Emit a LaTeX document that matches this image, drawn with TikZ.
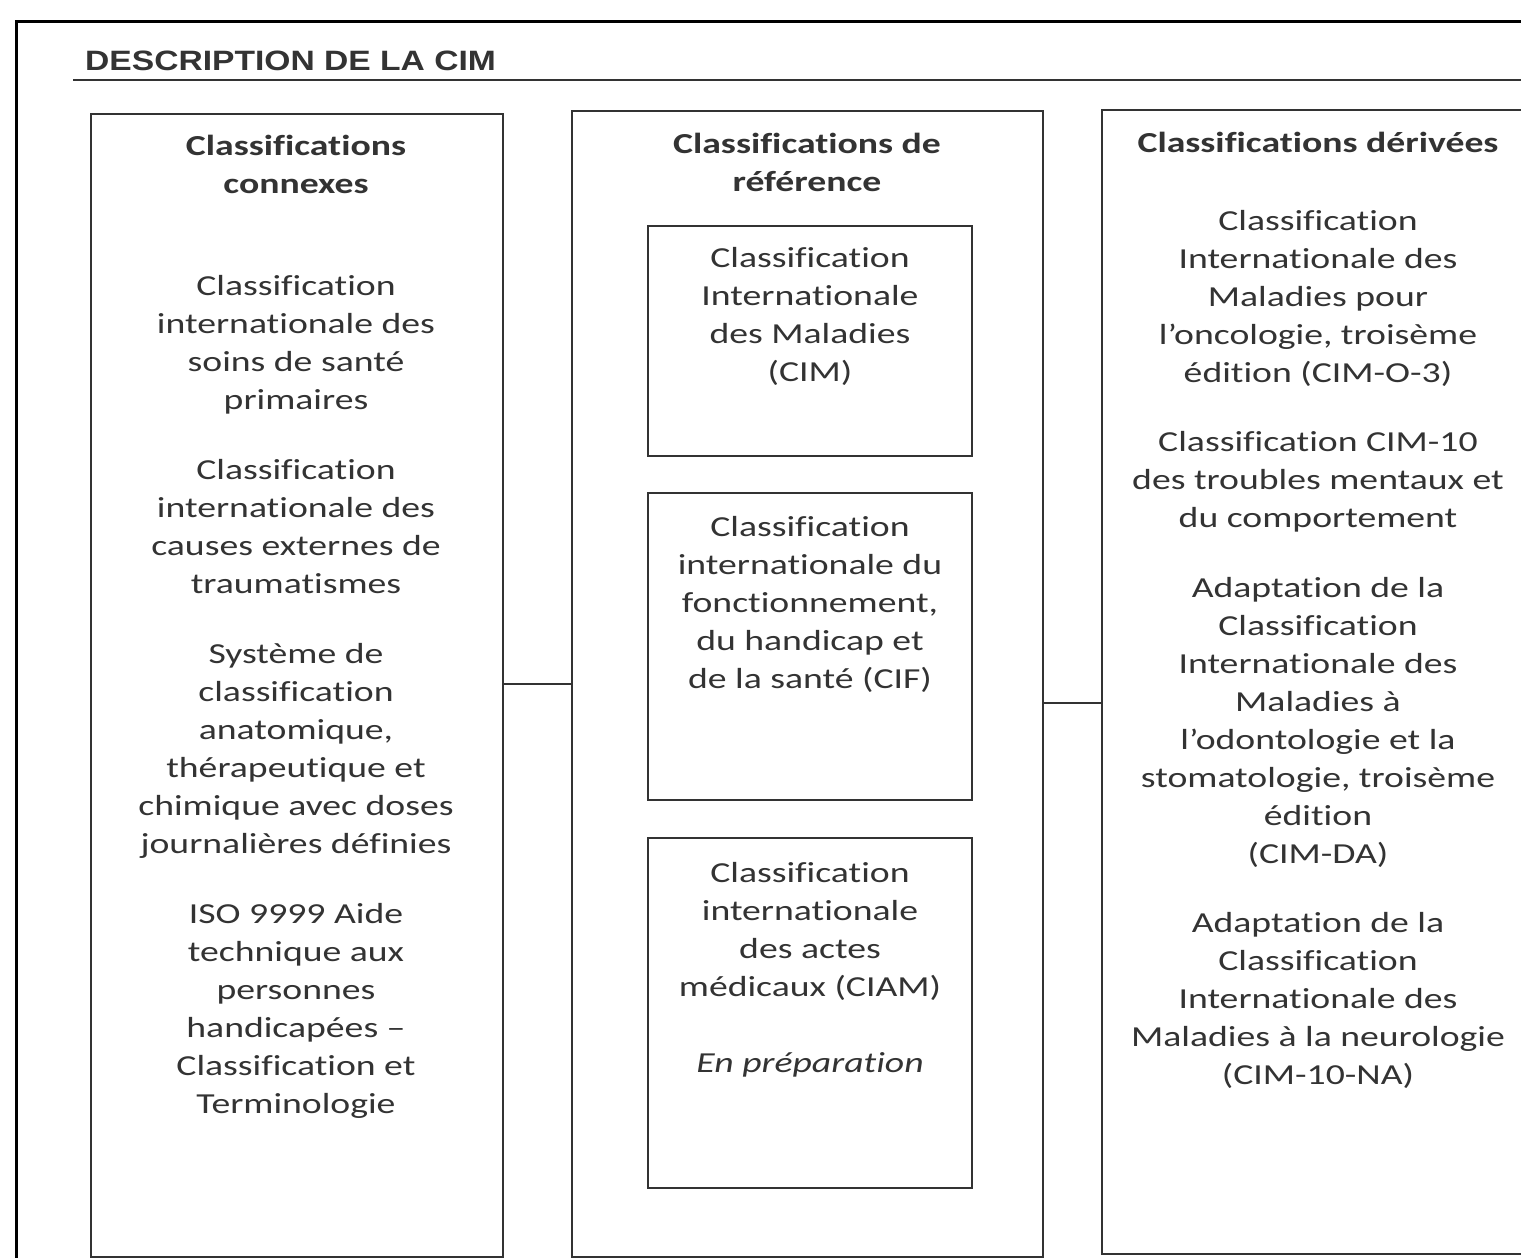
\documentclass[tikz,border=0pt]{standalone}
\usepackage{fontspec}
\setmainfont{Carlito}[FakeStretch=1.3, Ligatures={TeX,CommonOff}]
\newfontfamily\titlefont{Liberation Sans}[FakeStretch=1.2]
\definecolor{encre}{HTML}{333333}
\begin{document}
\begin{tikzpicture} [x=1pt, y=-1pt,
    box/.style={draw=encre, line width=2pt, inner sep=0pt},
    txt/.style={text=encre, align=center, inner sep=0pt, anchor=north,
                font=\fontsize{29}{38}\selectfont},
    head/.style={txt, font=\fontsize{29}{38}\selectfont\bfseries},
    link/.style={draw=encre, line width=2pt},
]
    \useasboundingbox (0,0) rectangle (1521,1258);
    \fill [white] (0,0) rectangle (1521,1258);
    % page frame and title
    \draw [line width=3pt] (16,1262) -- (16,21) -- (1530,21);
    \node [anchor=base west, inner sep=0pt, text=encre,
           font=\titlefont\fontsize{28}{30}\selectfont\bfseries] (titre) at (85,70) {DESCRIPTION DE LA CIM};
    \draw [encre, line width=2pt] (73,80) -- (1530,80);

    % the three columns
    \node [box, minimum width=412pt, minimum height=1143pt] (connexes) at (297,685.5) {};
    \node [box, minimum width=471pt, minimum height=1146pt] (reference) at (807.5,684) {};
    \node [box, minimum width=433pt, minimum height=1144pt] (derivees) at (1318.5,682) {};

    % boxes inside the middle column
    \node [box, minimum width=324pt, minimum height=230pt] (cim) at (810,341) {};
    \node [box, minimum width=324pt, minimum height=307pt] (cif) at (810,646.5) {};
    \node [box, minimum width=324pt, minimum height=350pt] (ciam) at (810,1013) {};

    % connectors
    \coordinate (gauche) at (0,684);
    \coordinate (droite) at (0,703);
    \draw [link] (connexes.east |- gauche) -- (reference.west |- gauche);
    \draw [link] (reference.east |- droite) -- (derivees.west |- droite);

    % left column
    \node [head] (tconnexes) at (296,135) {Classifications\\connexes};
    \node [txt] (soins) at (296,275) {Classification\\internationale des\\soins de santé\\primaires};
    \node [txt] (causes) at (296,459) {Classification\\internationale des\\causes externes de\\traumatismes};
    \node [txt] (atc) at (296,643) {Système de\\classification\\anatomique,\\thérapeutique et\\chimique avec doses\\journalières définies};
    \node [txt] (iso) at (296,903) {ISO 9999 Aide\\technique aux\\personnes\\handicapées –\\Classification et\\Terminologie};

    % middle column
    \node [head] (treference) at (807,133) {Classifications de\\référence};
    \node [txt] (tcim) at (810,247) {Classification\\Internationale\\des Maladies\\(CIM)};
    \node [txt] (tcif) at (810,516) {Classification\\internationale du\\fonctionnement,\\du handicap et\\de la santé (CIF)};
    \node [txt] (tciam) at (810,862) {Classification\\internationale\\des actes\\médicaux (CIAM)\\[38pt]\textit{En préparation}};

    % right column
    \node [head] (tderivees) at (1318,132) {Classifications dérivées};
    \node [txt] (oncologie) at (1318,210) {Classification\\Internationale des\\Maladies pour\\l’oncologie, troisème\\édition (CIM-O-3)};
    \node [txt] (mentaux) at (1318,431) {Classification CIM-10\\des troubles mentaux et\\du comportement};
    \node [txt] (odonto) at (1318,577) {Adaptation de la\\Classification\\Internationale des\\Maladies à\\l’odontologie et la\\stomatologie, troisème\\édition\\(CIM-DA)};
    \node [txt] (neuro) at (1318,912) {Adaptation de la\\Classification\\Internationale des\\Maladies à la neurologie\\(CIM-10-NA)};
\end{tikzpicture}
\end{document}
